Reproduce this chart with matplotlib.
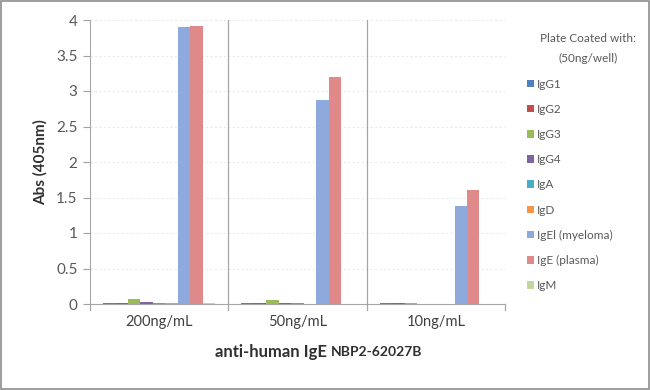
import numpy as np
import matplotlib
matplotlib.use('Agg')
import matplotlib.pyplot as plt
from matplotlib.patches import Rectangle

plt.rcParams['font.family'] = ['Lato', 'DejaVu Sans']

groups = ['200ng/mL', '50ng/mL', '10ng/mL']
isotypes = ['IgG1', 'IgG2', 'IgG3', 'IgG4', 'IgA', 'IgD',
            'IgEl (myeloma)', 'IgE (plasma)', 'IgM']
colors = ['#4F81BD', '#C0504D', '#9BBB59', '#8064A2', '#4BACC6',
          '#F79646', '#8EA9DB', '#E0898A', '#C3D69B']
# values per isotype, for 200 / 50 / 10 ng/mL
vals = {
    'IgG1': [0.02, 0.01, 0.01],
    'IgG2': [0.02, 0.01, 0.01],
    'IgG3': [0.07, 0.05, 0.02],
    'IgG4': [0.03, 0.01, 0.005],
    'IgA': [0.02, 0.01, 0.005],
    'IgD': [0.01, 0.005, 0.003],
    'IgEl (myeloma)': [3.90, 2.88, 1.38],
    'IgE (plasma)': [3.92, 3.20, 1.60],
    'IgM': [0.01, 0.005, 0.003],
}
yticks = [0, 0.5, 1, 1.5, 2, 2.5, 3, 3.5, 4]
yticklabels = ['0', '0.5', '1', '1.5', '2', '2.5', '3', '3.5', '4']

txt = '#595959'
fig = plt.figure(figsize=(6.5, 3.9), dpi=100)
ax = fig.add_axes([90/650, 1-304/390, 415/650, 284/390])

n = len(isotypes)
w = 0.09
x = np.arange(len(groups))
for k, iso in enumerate(isotypes):
    ax.bar(x + (k - (n-1)/2)*w, vals[iso], width=w, color=colors[k],
           label=iso, zorder=3)

ax.set_xlim(-0.5, len(groups)-0.5)
ax.set_ylim(0, 4)
ax.set_yticks(yticks)
ax.set_yticklabels(yticklabels, fontsize=11, color=txt)
ax.set_xticks(x)
ax.set_xticklabels(groups, fontsize=10.5, color='#404040')
ax.tick_params(axis='x', length=0, pad=8)
ax.tick_params(axis='y', length=5, color='#A0A0A0', pad=4)
for yv in yticks[1:]:
    ax.axhline(yv, color='#EBEBEB', lw=0.8, ls=(0, (2, 2)), zorder=1)
for xv in [0.5, 1.5]:
    ax.axvline(xv, color='#A6A6A6', lw=0.9, zorder=2)
for xv in [-0.5, 0.5, 1.5, 2.5]:
    ax.plot([xv, xv], [0, -0.08], color='#A6A6A6', lw=0.9, clip_on=False)
for s in ['top', 'right']:
    ax.spines[s].set_visible(False)
ax.spines['left'].set_color('#A6A6A6')
ax.spines['bottom'].set_color('#A6A6A6')

ax.set_ylabel('Abs (405nm)', fontsize=11, fontweight='bold', color='#303030', labelpad=6)
fig.text(0.509, 1-352/390, 'anti-human IgE ', fontsize=12, fontweight='bold',
         color='#303030', ha='right', va='center')
fig.text(0.509, 1-352/390, 'NBP2-62027B', fontsize=10, fontweight='bold',
         color='#303030', ha='left', va='center')

fig.text(588/650, 1-38/390, 'Plate Coated with:', fontsize=8.5, color=txt,
         ha='center', va='center')
fig.text(588/650, 1-58/390, '(50ng/well)', fontsize=8.5, color=txt,
         ha='center', va='center')
handles, labels = ax.get_legend_handles_labels()
leg = fig.legend(handles, labels, loc='upper left', bbox_to_anchor=(522/650, 1-74/390),
                 frameon=False, fontsize=8.5, handlelength=0.6, handleheight=0.6,
                 handletextpad=0.3, labelspacing=1.2, borderaxespad=0)
for t in leg.get_texts():
    t.set_color(txt)

fig.patches.append(Rectangle((0.002, 0.003), 0.996, 0.994, transform=fig.transFigure,
                             fill=False, edgecolor='#8C8C8C', lw=1.2))

fig.savefig('out.png', dpi=100)
